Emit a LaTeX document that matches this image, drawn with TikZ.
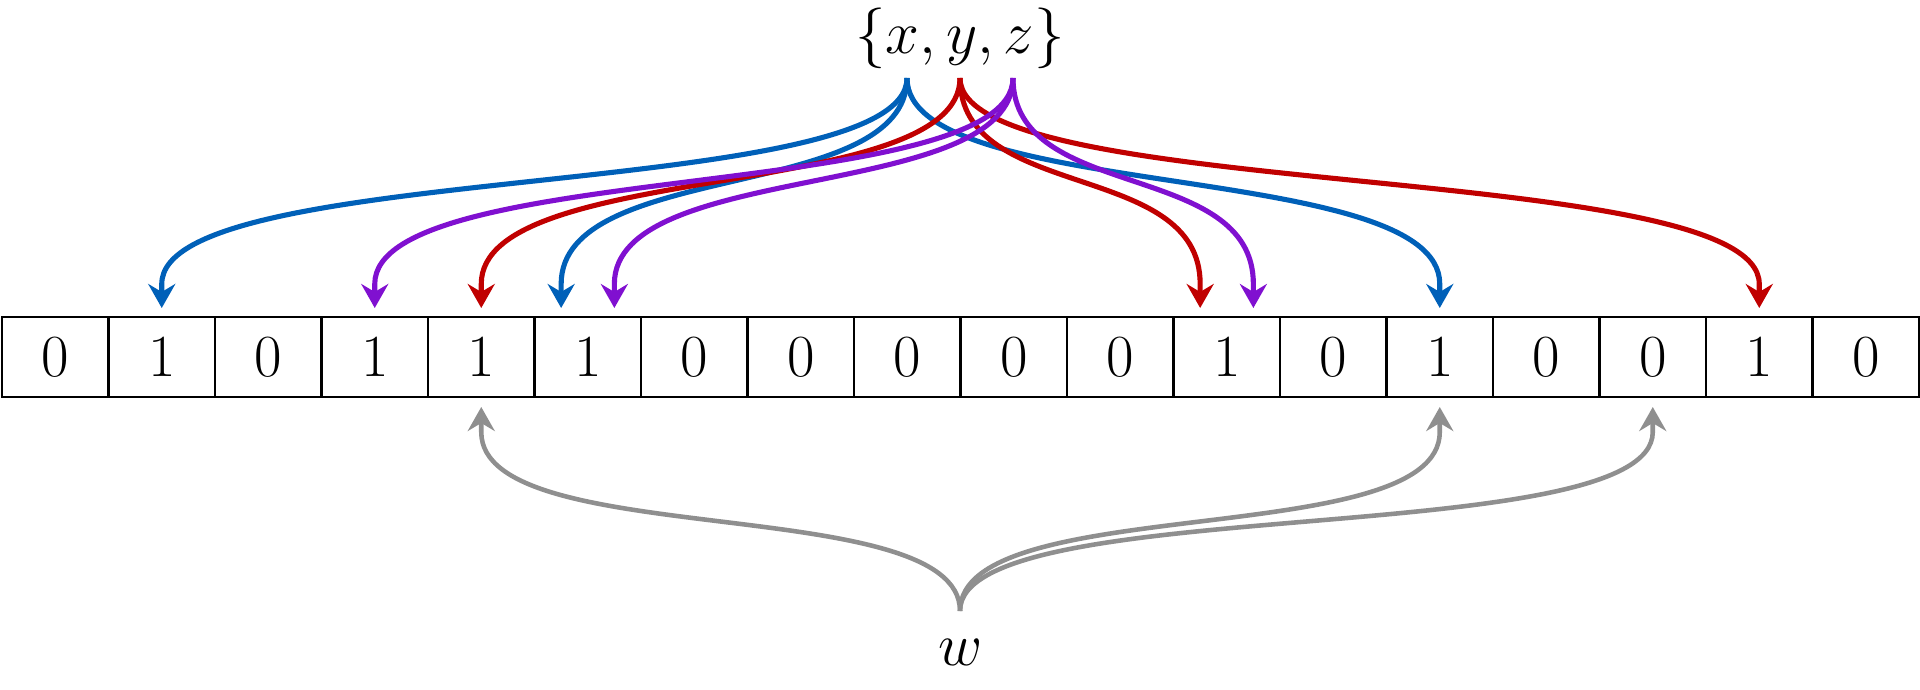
\documentclass[tikz,border=0pt]{standalone}
\usepackage{tikz}
\usetikzlibrary{arrows.meta, calc}

\definecolor{hashblue}{RGB}{0,96,184}
\definecolor{hashred}{RGB}{192,0,0}
\definecolor{hashpurple}{RGB}{128,16,208}
\definecolor{hashgray}{RGB}{143,143,143}

\tikzset{
    cell/.style={draw, line width=0.7pt, minimum width=1.065cm, minimum height=0.8cm,
        inner sep=0pt, outer sep=0pt, font=\fontsize{17}{20}\selectfont},
    label/.style={anchor=base, font=\fontsize{17.28}{20}\selectfont},
    hash/.style={line width=1.45pt, -{Stealth[length=2.4mm, width=2.7mm, inset=0.8mm]}},
}

\begin{document}
\begin{tikzpicture}
    \useasboundingbox (0,0) rectangle (19.2,6.89);

    % bit array
    \foreach \b [count=\i from 0] in {0,1,0,1,1,1,0,0,0,0,0,1,0,1,0,0,1,0}
        \node[cell] (c\i) at ({0.02+1.065*(\i+0.5)},3.32) {\b};

    \node[label] (set) at (9.6,6.36) {$\{x, y, z\}$};
    \node[label] (w) at (9.61,0.24) {$w$};

    \coordinate (xs) at (9.07,6.11);
    \coordinate (ys) at (9.60,6.11);
    \coordinate (zs) at (10.13,6.11);
    \coordinate (ws) at (9.60,0.78);

    % hashes of x, y, z
    \foreach \t/\dx in {c1/0, c5/-0.266, c13/0}
        \draw[hash, hashblue] (xs) .. controls +(0,-1.25) and +(0,1.25) .. ($(\t.north)+(\dx,0.33)$)
            -- ($(\t.north)+(\dx,0.09)$);
    \foreach \t/\dx in {c4/0, c11/-0.266, c16/0}
        \draw[hash, hashred] (ys) .. controls +(0,-1.25) and +(0,1.25) .. ($(\t.north)+(\dx,0.33)$)
            -- ($(\t.north)+(\dx,0.09)$);
    \foreach \t/\dx in {c3/0, c5/0.266, c11/0.266}
        \draw[hash, hashpurple] (zs) .. controls +(0,-1.25) and +(0,1.25) .. ($(\t.north)+(\dx,0.33)$)
            -- ($(\t.north)+(\dx,0.09)$);

    % hashes of w
    \foreach \t in {c4, c13, c15}
        \draw[hash, hashgray, line width=1.3pt] (ws) .. controls +(0,1.2) and +(0,-1.2) .. ($(\t.south)+(0,-0.35)$)
            -- ($(\t.south)+(0,-0.10)$);
\end{tikzpicture}
\end{document}
